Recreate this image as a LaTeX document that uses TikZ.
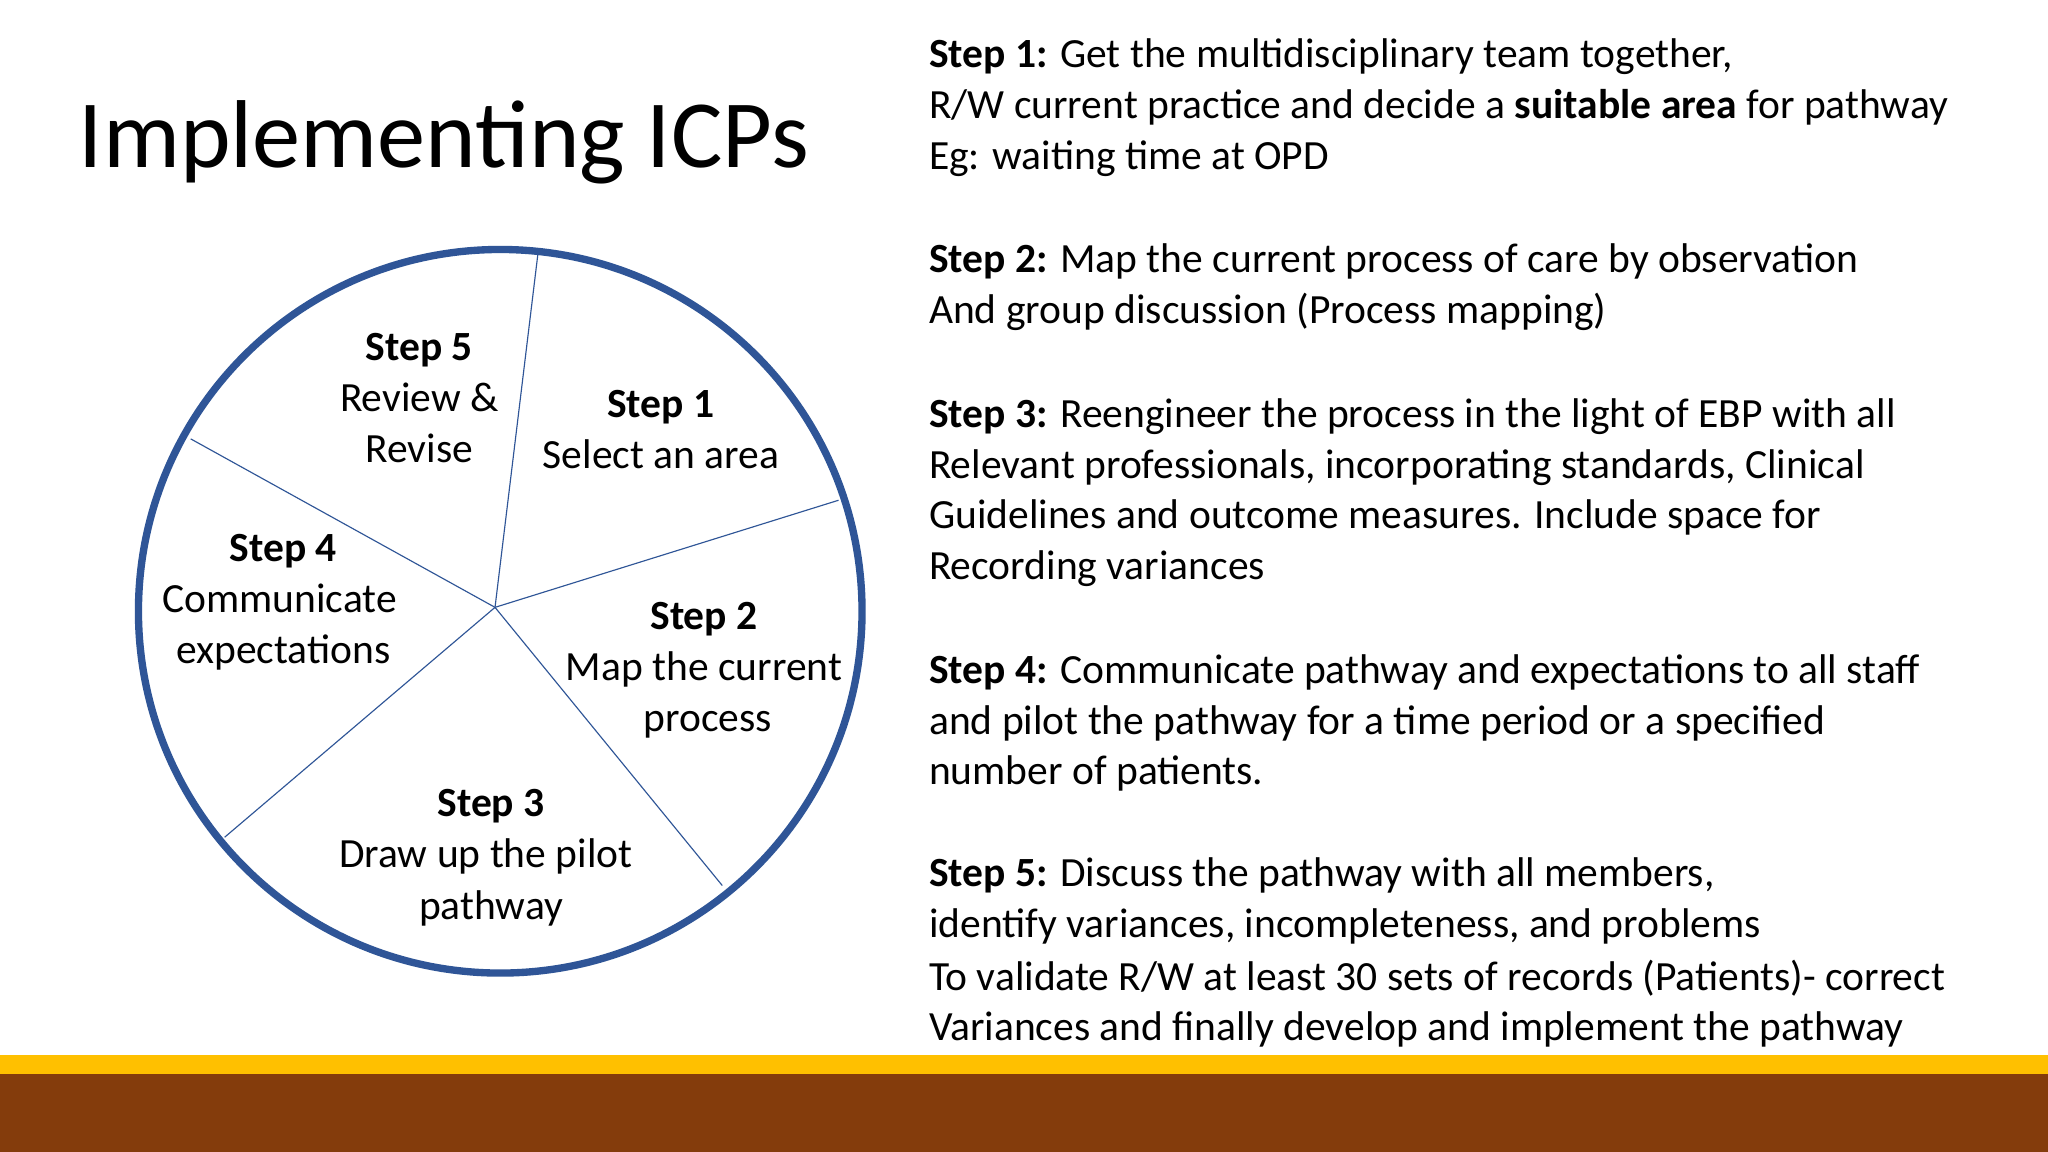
\documentclass[tikz,border=0pt]{standalone}
\usepackage{fontspec}
\setmainfont{Carlito}
\definecolor{ringblue}{HTML}{2F5597}
\definecolor{baryellow}{HTML}{FFC000}
\definecolor{barbrown}{HTML}{843C0C}
\begin{document}
\begin{tikzpicture}[x=0.02cm,y=-0.02cm,
  txt/.style={inner sep=0pt,font=\fontsize{18.1pt}{22pt}\selectfont},
  rl/.style={txt,anchor=base west},
  cl/.style={txt,anchor=base},
  spoke/.style={draw=ringblue,line width=0.5pt}]
\useasboundingbox (0,0) rectangle (1568,882);
\fill[white] (0,0) rectangle (1568,882);
\fill[baryellow] (0,808) rectangle (1568,823);
\fill[barbrown] (0,822) rectangle (1568,882);
\node[inner sep=0pt,anchor=base west,font=\fontsize{42pt}{50pt}\selectfont] (title) at (60,128) {Implementing ICPs};
% circle
\coordinate (hub) at (379,465);
\coordinate (p1) at (412,193);
\coordinate (p2) at (642,383);
\coordinate (p3) at (553,678);
\coordinate (p4) at (172,641);
\coordinate (p5) at (146,336);
\foreach \p in {p1,p2,p3,p4,p5} \draw[spoke] (hub) -- (\p);
\draw[ringblue,line width=3.2pt] (383,468) circle (277);
% circle labels
\node[cl] (s5a) at (321,276) {\textbf{Step 5}};
\node[cl] (s5b) at (321,315) {Review \&};
\node[cl] (s5c) at (321,354) {Revise};
\node[cl] (s1a) at (506,320) {\textbf{Step 1}};
\node[cl] (s1b) at (506,359) {Select an area};
\node[cl] (s4a) at (217,430) {\textbf{Step 4}};
\node[cl] (s4b) at (214,469) {Communicate};
\node[cl] (s4c) at (217,508) {expectations};
\node[cl] (s2a) at (539,482) {\textbf{Step 2}};
\node[cl] (s2b) at (539,521) {Map the current};
\node[cl] (s2c) at (542,560) {process};
\node[cl] (s3a) at (376,625) {\textbf{Step 3}};
\node[cl] (s3b) at (372,664) {Draw up the pilot};
\node[cl] (s3c) at (376,704) {pathway};
% right text
\node[rl] (r1a) at (711,52) {\textbf{Step 1:} Get the multidisciplinary team together,};
\node[rl] (r1b) at (711,91) {R/W current practice and decide a \textbf{suitable area} for pathway};
\node[rl] (r1c) at (711,130) {Eg: waiting time at OPD};
\node[rl] (r2a) at (711,209) {\textbf{Step 2:} Map the current process of care by observation};
\node[rl] (r2b) at (711,248) {And group discussion (Process mapping)};
\node[rl] (r3a) at (711,327) {\textbf{Step 3:} Reengineer the process in the light of EBP with all};
\node[rl] (r3b) at (711,366) {Relevant professionals, incorporating standards, Clinical};
\node[rl] (r3c) at (711,405) {Guidelines and outcome measures. Include space for};
\node[rl] (r3d) at (711,444) {Recording variances};
\node[rl] (r4a) at (711,523) {\textbf{Step 4:} Communicate pathway and expectations to all staff};
\node[rl] (r4b) at (711,562) {and pilot the pathway for a time period or a specified};
\node[rl] (r4c) at (711,601) {number of patients.};
\node[rl] (r5a) at (711,679) {\textbf{Step 5:} Discuss the pathway with all members,};
\node[rl] (r5b) at (711,718) {identify variances, incompleteness, and problems};
\node[rl] (r5c) at (711,758) {To validate R/W at least 30 sets of records (Patients)- correct};
\node[rl] (r5d) at (711,797) {Variances and finally develop and implement the pathway};
\end{tikzpicture}
\end{document}
